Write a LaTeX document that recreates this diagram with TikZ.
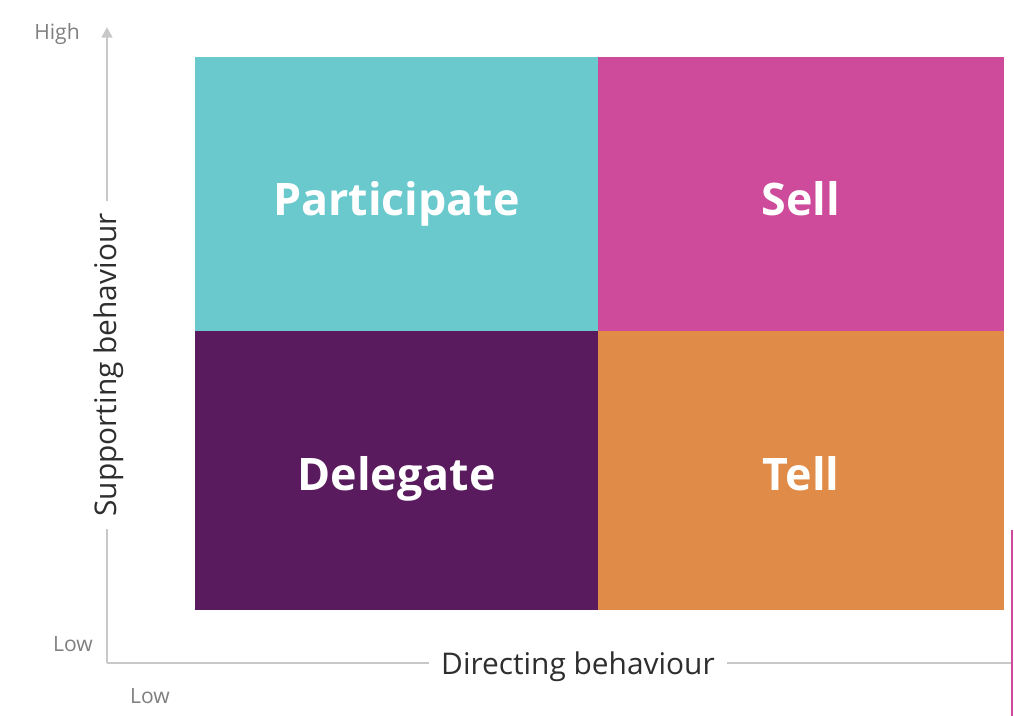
\documentclass[tikz,border=0pt]{standalone}
\usepackage{fontspec}
\setmainfont{Open Sans}
\usetikzlibrary{arrows.meta}
\definecolor{partcol}{HTML}{69C9CC}
\definecolor{sellcol}{HTML}{CE4A9A}
\definecolor{delcol}{HTML}{5A1A5E}
\definecolor{tellcol}{HTML}{E08B48}
\definecolor{axiscol}{HTML}{C8C8C8}
\definecolor{axistext}{HTML}{2E2E2E}
\definecolor{endtext}{HTML}{7F7F7F}
\tikzset{
  quad/.style={text=white,anchor=base,font=\fontsize{25.5}{28}\bfseries\selectfont},
  axislabel/.style={text=axistext,font=\fontsize{17}{20}\selectfont,inner sep=7pt},
  endlabel/.style={text=endtext,font=\fontsize{12}{14}\selectfont},
  axisline/.style={draw=axiscol,line width=1.4pt}
}
\begin{document}
\begin{tikzpicture}[x=0.02cm,y=-0.02cm]
\useasboundingbox (0,0) rectangle (1014,716);
% quadrants
\fill[partcol] (195,57) rectangle (598,331);
\fill[sellcol] (598,57) rectangle (1004,331);
\fill[delcol] (195,331) rectangle (598,610);
\fill[tellcol] (598,331) rectangle (1004,610);
\node[quad] (part) at (396.5,215) {Participate};
\node[quad] (sell) at (801,215) {Sell};
\node[quad] (dele) at (396.5,490) {Delegate};
\node[quad] (tell) at (801,490) {Tell};
% axes
\coordinate (orig) at (107,663);
\coordinate (ytop) at (107,27);
\coordinate (xend) at (1012,663);
\node[axislabel,rotate=90] (ylab) at (109,365) {Supporting behaviour};
\node[axislabel] (xlab) at (578,667) {Directing behaviour};
\draw[axisline] (orig) -- (orig |- ylab.west);
\draw[axisline,-{Triangle[width=6pt,length=6pt]}] (orig |- ylab.east) -- (ytop);
\draw[axisline] (orig) -- (xlab.west |- orig);
\draw[axisline] (xlab.east |- orig) -- (xend);
\node[endlabel] (high) at (57,34) {High};
\node[endlabel] (ylow) at (73,644) {Low};
\node[endlabel] (xlow) at (150,696) {Low};
% edge of the next panel
\draw[sellcol,line width=1pt] (1012,530) -- (1012,716);
\end{tikzpicture}
\end{document}
